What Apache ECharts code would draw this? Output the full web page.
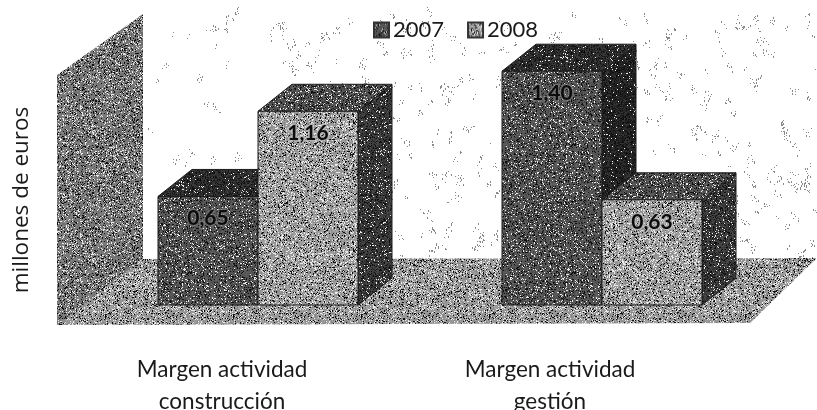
<!DOCTYPE html>
<html><head><meta charset="utf-8">
<style>html,body{margin:0;padding:0;background:#fff}#c{width:817px;height:410px}</style>
<script src="https://cdn.jsdelivr.net/npm/echarts@6/dist/echarts.min.js"></script>
</head><body><div id="c"></div>
<script>
const categories = ['Margen actividad\nconstrucción', 'Margen actividad\ngestión'];
const values2007 = [0.65, 1.40];
const values2008 = [1.16, 0.63];
const seriesNames = ['2007', '2008'];
const yAxisTitle = 'millones de euros';

// Deterministic speckle texture generator (decoration only, no data)
let seed = 12345;
function rnd() { seed = (seed * 1664525 + 1013904223) >>> 0; return seed / 4294967296; }
function noise(mean, mix, size) {
  size = size || 128;
  const cv = document.createElement('canvas'); cv.width = cv.height = size;
  const ctx = cv.getContext('2d'), img = ctx.createImageData(size, size);
  for (let i = 0; i < size * size; i++) {
    let v = mean;
    if (rnd() < mix) v = rnd() < mean / 255 ? 235 : 15;
    else v = Math.max(0, Math.min(255, mean + (rnd() - 0.5) * 36));
    img.data[i * 4] = img.data[i * 4 + 1] = img.data[i * 4 + 2] = v;
    img.data[i * 4 + 3] = 255;
  }
  ctx.putImageData(img, 0, 0);
  return { image: cv, repeat: 'repeat' };
}
function wallSpeckle() {
  const cv = document.createElement('canvas'); cv.width = 817; cv.height = 410;
  const ctx = cv.getContext('2d');
  ctx.fillStyle = '#fff'; ctx.fillRect(0, 0, 817, 410);
  ctx.fillStyle = '#8a8a8a';
  for (let c = 0; c < 430; c++) {
    const x0 = 150 + Math.pow(rnd(), 0.7) * 667, y0 = 15 + rnd() * 245;
    const n = 2 + Math.floor(rnd() * 7);
    let x = x0, y = y0;
    for (let i = 0; i < n; i++) {
      x += (rnd() - 0.5) * 7; y += (rnd() - 0.5) * 9;
      ctx.fillRect(Math.round(x), Math.round(y), 1, rnd() < 0.3 ? 2 : 1);
    }
  }
  return { image: cv, repeat: 'no-repeat' };
}

const tex = {
  wall: noise(120, 0.28), floor: noise(150, 0.3),
  a: [noise(85, 0.25), noise(48, 0.25), noise(38, 0.22)],
  b: [noise(152, 0.3), noise(82, 0.28), noise(60, 0.25)]
};
const depthX = 34, depthY = 27, barShare = 100 / 344;

function box(seriesIdx, t, halo) {
  return function (params, api) {
    const cat = api.value(0), val = api.value(1);
    const top = api.coord([cat, val]), base = api.coord([cat, 0]);
    const w = api.size([1, 0])[0] * barShare;
    const x0 = seriesIdx === 0 ? top[0] - w : top[0], x1 = x0 + w;
    const yT = top[1], yB = base[1];
    const edge = { stroke: '#1c1c1c', lineWidth: 1 };
    return { type: 'group', children: [
      { type: 'polygon', shape: { points: [[x1, yT], [x1 + depthX, yT - depthY], [x1 + depthX, yB - depthY], [x1, yB]] }, style: Object.assign({ fill: t[2] }, edge) },
      { type: 'polygon', shape: { points: [[x0, yT], [x0 + depthX, yT - depthY], [x1 + depthX, yT - depthY], [x1, yT]] }, style: Object.assign({ fill: t[1] }, edge) },
      { type: 'rect', shape: { x: x0, y: yT, width: w, height: yB - yT }, style: Object.assign({ fill: t[0] }, edge) },
      { type: 'text', x: (x0 + x1) / 2, y: yT + 22, style: { text: String(val.toFixed(2)).replace('.', ','), font: '700 21px Lato', fill: '#0c0c0c', stroke: halo, lineWidth: 3, align: 'center', verticalAlign: 'middle' } }
    ] };
  };
}

const chart = echarts.init(document.getElementById('c'), null, { renderer: 'canvas' });
chart.setOption({
  animation: false,
  backgroundColor: '#fff',
  graphic: [
    { type: 'rect', z: 0, shape: { x: 0, y: 0, width: 817, height: 262 }, style: { fill: wallSpeckle() } },
    { type: 'polygon', z: 1, shape: { points: [[57, 325], [143, 259], [817, 258], [750, 323]] }, style: { fill: tex.floor } },
    { type: 'polygon', z: 1, shape: { points: [[57, 325], [57, 75], [143, 14], [143, 259]] }, style: { fill: tex.wall } }
  ],
  legend: {
    left: 373, top: 19, padding: 0, itemWidth: 15, itemHeight: 15, itemGap: 23,
    icon: 'rect', data: seriesNames,
    textStyle: { fontFamily: 'Lato', fontSize: 22, color: '#1a1a1a', padding: [0, 0, 0, -1] }
  },
  grid: [
    { left: 86, width: 688, top: 4.4, height: 300.6, outerBoundsMode: 'none' },
    { left: 58, width: 656, top: 105, height: 190, outerBoundsMode: 'none' }
  ],
  xAxis: [
    { type: 'category', gridIndex: 0, data: categories, show: false },
    { type: 'category', gridIndex: 1, data: categories,
      axisLine: { show: false }, axisTick: { show: false },
      axisLabel: { margin: 59, fontFamily: 'Lato', fontSize: 22.5, lineHeight: 32, color: '#1a1a1a' } }
  ],
  yAxis: [
    { type: 'value', gridIndex: 0, min: 0, max: 1.8, show: false },
    { type: 'value', gridIndex: 1, min: 0, max: 1, name: yAxisTitle, nameLocation: 'middle', nameGap: 25,
      nameTextStyle: { fontFamily: 'Open Sans', fontSize: 22.5, fontWeight: 500, color: '#1a1a1a' },
      axisLine: { show: false }, axisTick: { show: false }, axisLabel: { show: false }, splitLine: { show: false } }
  ],
  series: [
    { name: seriesNames[0], type: 'custom', xAxisIndex: 0, yAxisIndex: 0, z: 3,
      itemStyle: { color: tex.a[0], borderColor: '#333', borderWidth: 1 },
      encode: { x: 0, y: 1 }, renderItem: box(0, tex.a, 'rgba(120,120,120,0.75)'),
      data: values2007.map((v, i) => [i, v]) },
    { name: seriesNames[1], type: 'custom', xAxisIndex: 0, yAxisIndex: 0, z: 4,
      itemStyle: { color: tex.b[0], borderColor: '#333', borderWidth: 1 },
      encode: { x: 0, y: 1 }, renderItem: box(1, tex.b, 'rgba(185,185,185,0.8)'),
      data: values2008.map((v, i) => [i, v]) }
  ]
});
</script></body></html>
